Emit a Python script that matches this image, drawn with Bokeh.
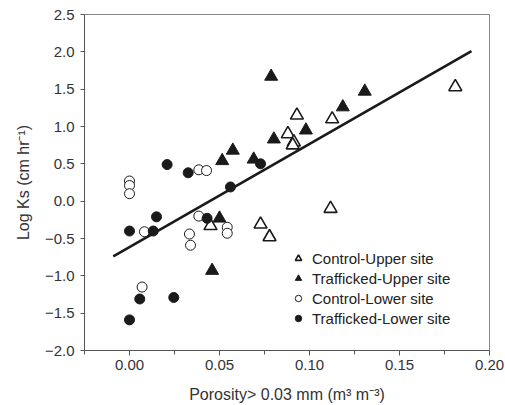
from bokeh.plotting import figure
from bokeh.models import Legend, LegendItem, Range1d, FixedTicker
from bokeh.embed import file_html
from bokeh.resources import INLINE

# Control-Upper site (open triangles)
cu_x = [0.181, 0.093, 0.1126, 0.088, 0.0913, 0.0907, 0.1117, 0.045, 0.0728, 0.0778]
cu_y = [1.53, 1.15, 1.10, 0.90, 0.79, 0.75, -0.10, -0.33, -0.31, -0.48]

# Trafficked-Upper site (filled triangles)
tu_x = [0.0787, 0.1307, 0.1185, 0.098, 0.0802, 0.0574, 0.0515, 0.069, 0.050, 0.0459]
tu_y = [1.67, 1.47, 1.26, 0.95, 0.83, 0.68, 0.54, 0.56, -0.23, -0.93]

# Control-Lower site (open circles)
cl_x = [0.0385, 0.0428, 0.0, 0.0, 0.0, 0.0083, 0.0385, 0.0333, 0.0339, 0.0543, 0.0543, 0.007]
cl_y = [0.42, 0.41, 0.27, 0.21, 0.10, -0.41, -0.20, -0.44, -0.59, -0.35, -0.43, -1.15]

# Trafficked-Lower site (filled circles)
tl_x = [0.0209, 0.0326, 0.0728, 0.0561, 0.015, 0.0, 0.0132, 0.0431, 0.0057, 0.0246, 0.0]
tl_y = [0.49, 0.38, 0.50, 0.19, -0.21, -0.40, -0.40, -0.23, -1.31, -1.29, -1.59]

# Regression line
reg_x = [-0.009, 0.19]
reg_y = [-0.74, 2.01]

x_ticks = [0.0, 0.05, 0.10, 0.15, 0.20]
x_tick_labels = ["0.00", "0.05", "0.10", "0.15", "0.20"]
x_minor_ticks = [-0.025, 0.025, 0.075, 0.125, 0.175]
y_ticks = [-2.0, -1.5, -1.0, -0.5, 0.0, 0.5, 1.0, 1.5, 2.0, 2.5]
y_tick_labels = ["\u22122.0", "\u22121.5", "\u22121.0", "\u22120.5", "0.0", "0.5", "1.0", "1.5", "2.0", "2.5"]

FONT = "Liberation Sans"
INK = "#1a1a1a"
AX = "#555555"

p = figure(width=505, height=405, output_backend="svg", toolbar_location=None,
           x_range=Range1d(-0.025, 0.20), y_range=Range1d(-2.0, 2.5),
           min_border_left=84, min_border_right=16, min_border_top=14, min_border_bottom=55)
p.xgrid.visible = False
p.ygrid.visible = False
p.outline_line_color = "#888888"
p.outline_line_width = 1

p.line(reg_x, reg_y, line_color=INK, line_width=2.6)

r_cu = p.scatter(cu_x, cu_y, marker="triangle", size=13, fill_color="white",
                 line_color=INK, line_width=1.6)
r_tu = p.scatter(tu_x, tu_y, marker="triangle", size=13, fill_color=INK,
                 line_color=INK, line_width=1)
r_cl = p.scatter(cl_x, cl_y, marker="circle", size=10, fill_color="white",
                 line_color=INK, line_width=1)
r_tl = p.scatter(tl_x, tl_y, marker="circle", size=10, fill_color=INK,
                 line_color=INK, line_width=1)

legend = Legend(items=[
    LegendItem(label="Control-Upper site", renderers=[r_cu]),
    LegendItem(label="Trafficked-Upper site", renderers=[r_tu]),
    LegendItem(label="Control-Lower site", renderers=[r_cl]),
    LegendItem(label="Trafficked-Lower site", renderers=[r_tl]),
], location=(206, 22), border_line_color=None, background_fill_alpha=0,
    padding=0, spacing=0, label_height=20, glyph_height=20, glyph_width=16,
    label_standoff=6, label_text_font=FONT, label_text_font_size="15px",
    label_text_color="#222222")
p.add_layout(legend, "center")

# axes
xa = p.xaxis[0]
xa.ticker = FixedTicker(ticks=x_ticks, minor_ticks=x_minor_ticks)
xa.major_label_overrides = {t: l for t, l in zip(x_ticks, x_tick_labels)}
xa.axis_label = "Porosity> 0.03 mm (m\u00b3 m\u207b\u00b3)"
xa.major_tick_out = 5
xa.major_tick_in = 0
xa.minor_tick_out = 4
xa.minor_tick_in = 0
xa.major_label_standoff = 4
xa.axis_label_standoff = 13

ya = p.yaxis[0]
ya.ticker = FixedTicker(ticks=y_ticks, minor_ticks=[])
ya.major_label_overrides = {t: l for t, l in zip(y_ticks, y_tick_labels)}
ya.axis_label = "Log Ks (cm hr\u207b\u00b9)"
ya.major_tick_out = 4
ya.major_tick_in = 0
ya.minor_tick_out = 0
ya.minor_tick_in = 0
ya.major_label_standoff = 6
ya.axis_label_standoff = 10

for a in (xa, ya):
    a.axis_line_color = AX
    a.major_tick_line_color = AX
    a.minor_tick_line_color = AX
    a.major_label_text_font = FONT
    a.major_label_text_font_size = "15px"
    a.major_label_text_color = "#333333"
    a.axis_label_text_font = FONT
    a.axis_label_text_font_size = "16px"
    a.axis_label_text_font_style = "normal"
    a.axis_label_text_color = "#333333"

open("out.html", "w").write(file_html(p, INLINE))
